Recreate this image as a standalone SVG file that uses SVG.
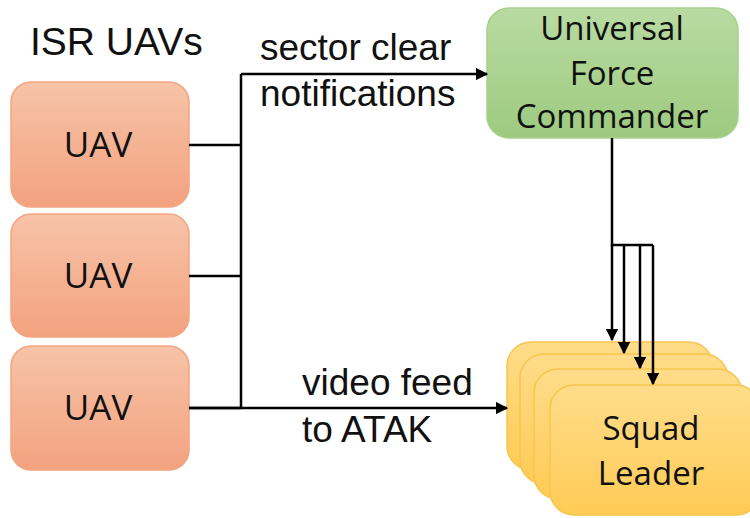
<svg xmlns="http://www.w3.org/2000/svg" width="750" height="518" viewBox="0 0 750 518">
  <defs>
    <linearGradient id="gUav" x1="0" y1="0" x2="0" y2="1">
      <stop offset="0" stop-color="#f7c3a8"/>
      <stop offset="1" stop-color="#f3a27f"/>
    </linearGradient>
    <linearGradient id="gCmd" x1="0" y1="0" x2="0" y2="1">
      <stop offset="0" stop-color="#b9dba2"/>
      <stop offset="1" stop-color="#9dca80"/>
    </linearGradient>
    <linearGradient id="gSq" x1="0" y1="0" x2="0" y2="1">
      <stop offset="0" stop-color="#ffdc8a"/>
      <stop offset="1" stop-color="#ffcb55"/>
    </linearGradient>
    <marker id="arrow" viewBox="0 0 10 10" refX="9" refY="5" markerWidth="5" markerHeight="5" orient="auto" markerUnits="strokeWidth">
      <path d="M0,0 L10,5 L0,10 z" fill="#000"/>
    </marker>
  </defs>
  <style>
    .uav { fill: url(#gUav); stroke: #f2a580; stroke-width: 1.5; }
    .cmd { fill: url(#gCmd); stroke: #a6cf8a; stroke-width: 1.5; }
    .sq { fill: url(#gSq); stroke: #f7c64f; stroke-width: 1.5; }
    .node { font-family: "Open Sans", "Liberation Sans", sans-serif; font-size: 33px; fill: #111; text-anchor: middle; }
    .lbl { font-family: "Liberation Sans", Arial, sans-serif; font-size: 37px; fill: #111; }
    .wire { fill: none; stroke: #000; stroke-width: 2.5; }
    .arr { fill: none; stroke: #000; stroke-width: 2.5; marker-end: url(#arrow); }
  </style>

  <rect width="750" height="518" fill="#fff"/>

  <text class="lbl" x="30" y="55" style="font-size:39px">ISR UAVs</text>

  <g id="uav1">
    <rect class="uav" x="11" y="82" width="178" height="125" rx="20"/>
    <text class="node" x="98" y="157" style="font-size:35px">UAV</text>
  </g>
  <g id="uav2">
    <rect class="uav" x="11" y="214" width="178" height="123" rx="20"/>
    <text class="node" x="98" y="288" style="font-size:35px">UAV</text>
  </g>
  <g id="uav3">
    <rect class="uav" x="11" y="346" width="178" height="124" rx="20"/>
    <text class="node" x="98" y="420" style="font-size:35px">UAV</text>
  </g>

  <g id="commander">
    <rect class="cmd" x="487" y="8" width="251" height="130" rx="22"/>
    <text class="node" x="612" y="40">Universal</text>
    <text class="node" x="612" y="85">Force</text>
    <text class="node" x="612" y="128">Commander</text>
  </g>

  <g id="squad-leaders">
    <rect class="sq" x="507" y="342" width="206" height="128" rx="24"/>
    <rect class="sq" x="520" y="354" width="208" height="130" rx="24"/>
    <rect class="sq" x="534" y="369" width="208" height="130" rx="24"/>
    <rect class="sq" x="550" y="385" width="210" height="130" rx="24"/>
    <text class="node" x="651" y="440">Squad</text>
    <text class="node" x="651" y="485">Leader</text>
  </g>

  <g id="connectors">
    <path class="wire" d="M189,145 H241 M189,276 H241 M189,408 H241 M241,74 V408"/>
    <path class="arr" d="M241,74 H487"/>
    <path class="arr" d="M189,408 H507"/>
    <path class="wire" d="M612,138 V245 H653"/>
    <path class="arr" d="M612,245 V340"/>
    <path class="arr" d="M624,245 V353"/>
    <path class="arr" d="M640,245 V368"/>
    <path class="arr" d="M653,245 V384"/>
  </g>

  <text class="lbl" x="260" y="60">sector clear</text>
  <text class="lbl" x="260" y="106">notifications</text>
  <text class="lbl" x="302" y="395">video feed</text>
  <text class="lbl" x="302" y="442">to ATAK</text>
</svg>
